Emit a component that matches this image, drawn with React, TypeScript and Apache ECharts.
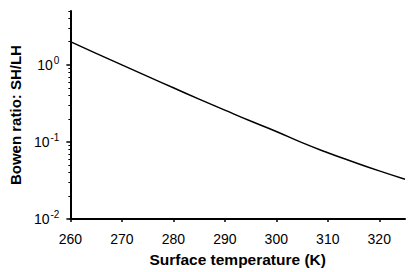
import React, { useEffect, useRef } from "react";
import * as echarts from "echarts";

const temps = [260, 265, 270, 275, 280, 285, 290, 295, 300, 305, 310, 315, 320, 325];
const bowen = [2.0, 1.41, 1.0, 0.71, 0.505, 0.36, 0.259, 0.187, 0.137, 0.098, 0.0725, 0.055, 0.0422, 0.0329];
const xTicks = [260, 270, 280, 290, 300, 310, 320];
const yMajor = [0.01, 0.1, 1];
const yMinor = [0.02, 0.03, 0.04, 0.05, 0.06, 0.07, 0.08, 0.09, 0.2, 0.3, 0.4, 0.5, 0.6, 0.7, 0.8, 0.9, 2, 3, 4, 5];
const supMap: Record<string, string> = { "0.01": "-2", "0.1": "-1", "1": "0" };

export default function App() {
  const ref = useRef<HTMLDivElement>(null);
  useEffect(() => {
    const chart = echarts.init(ref.current!, null, { renderer: "svg" });
    const font = "Liberation Sans, Arial, Helvetica, sans-serif";
    const yBase = {
      type: "log" as const,
      logBase: 10,
      min: 0.01,
      max: 5,
      splitLine: { show: false },
      minorTick: { show: false },
    };
    chart.setOption({
      animation: false,
      grid: { left: 68, right: 10, top: 11, bottom: 50 },
      xAxis: {
        type: "value",
        min: 260,
        max: 325,
        interval: 10,
        name: "Surface temperature (K)",
        nameLocation: "middle",
        nameGap: 29,
        nameTextStyle: { fontFamily: font, fontSize: 15.5, fontWeight: "bold", color: "#000" },
        axisLine: { lineStyle: { color: "#000", width: 2 } },
        axisTick: { show: true, length: 3, lineStyle: { color: "#000", width: 1.5 }, customValues: xTicks },
        axisLabel: { fontFamily: font, fontSize: 14, color: "#000", margin: 13, customValues: xTicks },
        splitLine: { show: false },
      },
      yAxis: [
        {
          ...yBase,
          name: "Bowen ratio: SH/LH",
          nameLocation: "middle",
          nameGap: 45,
          nameTextStyle: { fontFamily: font, fontSize: 15, fontWeight: "bold", color: "#000" },
          axisLine: { show: true, lineStyle: { color: "#000", width: 2 } },
          axisTick: { show: true, length: 4, lineStyle: { color: "#000", width: 1.5 }, customValues: yMajor },
          axisLabel: {
            fontFamily: font,
            fontSize: 14,
            color: "#000",
            margin: 11,
            customValues: yMajor,
            formatter: (v: number) => {
              const key = String(Number(v.toPrecision(3)));
              return "10{sup|" + (supMap[key] ?? "") + "}";
            },
            rich: {
              sup: { fontFamily: font, fontSize: 10, color: "#000", verticalAlign: "top", padding: [0, 0, 9, 1] },
            },
          },
        },
        {
          ...yBase,
          position: "left",
          axisLine: { show: false },
          axisTick: { show: true, length: 2, lineStyle: { color: "#000", width: 1 }, customValues: yMinor },
          axisLabel: { show: false },
        },
      ],
      series: [
        {
          type: "line",
          data: temps.map((t, i) => [t, bowen[i]]),
          smooth: true,
          showSymbol: false,
          lineStyle: { color: "#000", width: 1.5 },
        },
      ],
    });
    return () => chart.dispose();
  }, []);
  return <div ref={ref} style={{ width: 415, height: 272, position: "absolute", left: 0, top: 0 }} />;
}
